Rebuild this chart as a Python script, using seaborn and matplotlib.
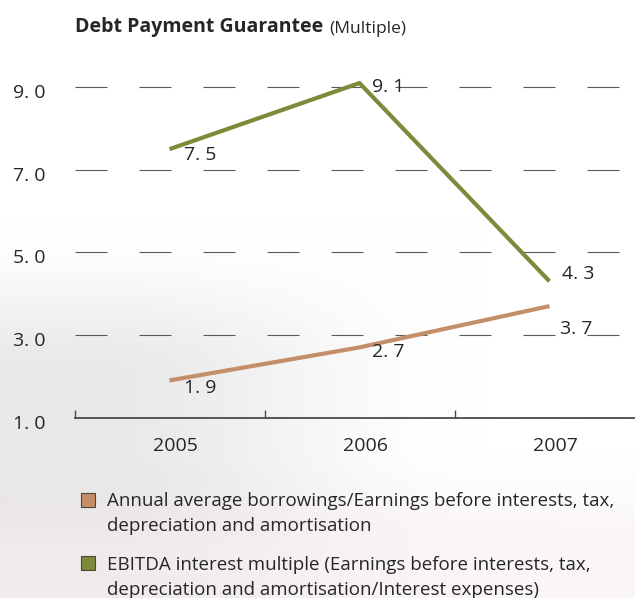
import numpy as np
import pandas as pd
import matplotlib
matplotlib.use("Agg")
import matplotlib.pyplot as plt
import matplotlib.transforms as mtransforms
from matplotlib.patches import Rectangle
import seaborn as sns

# ---- data -------------------------------------------------------------
years = ["2005", "2006", "2007"]
borrowings_ebitda = [1.9, 2.7, 3.7]
ebitda_interest = [7.5, 9.1, 4.3]
y_ticks = [1.0, 3.0, 5.0, 7.0, 9.0]
series_names = [
    "Annual average borrowings/Earnings before interests, tax,\ndepreciation and amortisation",
    "EBITDA interest multiple (Earnings before interests, tax,\ndepreciation and amortisation/Interest expenses)",
]
title_main = "Debt Payment Guarantee"
title_unit = "(Multiple)"

# ---- style ------------------------------------------------------------
sns.set_style("white")
plt.rcParams["font.family"] = ["Open Sans", "DejaVu Sans"]
plt.rcParams["lines.scale_dashes"] = False

TAN = "#c48f68"
GREEN = "#7b8b3a"
TEXT = "#262626"
AXIS = "#4a4a4a"

W, H, DPI = 635, 598, 100
fig = plt.figure(figsize=(W / DPI, H / DPI), dpi=DPI)

# soft backdrop: white at the top, pale grey haze on the left half,
# faint rose tint along the bottom
bg = fig.add_axes([0, 0, 1, 1], zorder=-10)
u = np.linspace(0, 1, 160)[None, :]
v = np.linspace(0, 1, 150)[:, None]
def smooth(t):
    t = np.clip(t, 0, 1)
    return t * t * (3 - 2 * t)
grey = (0.085 * smooth((v - 0.38) / 0.25) * (1 - 0.6 * smooth((v - 0.78) / 0.15))
        * smooth((0.75 - u) / 0.6))
rose = 0.045 * smooth((v - 0.76) / 0.14) * (1 - 0.3 * u)
rgb = np.dstack([1 - grey - rose * 0.5, 1 - grey - rose, 1 - grey - rose])
bg.imshow(np.clip(rgb, 0, 1), extent=[0, 1, 0, 1], aspect="auto", interpolation="bicubic")
bg.set_axis_off()

# ---- main axes --------------------------------------------------------
ax = fig.add_axes([74.5 / W, 1 - 417.6 / H, (W - 74.5) / W, 371.7 / H])
ax.patch.set_alpha(0)

pos = np.arange(len(years))
df = pd.DataFrame({
    "pos": np.concatenate([pos, pos]),
    "value": borrowings_ebitda + ebitda_interest,
    "series": [series_names[0]] * len(years) + [series_names[1]] * len(years),
})
sns.lineplot(data=df, x="pos", y="value", hue="series",
             palette=[TAN, GREEN], linewidth=3.0, legend=False, ax=ax,
             zorder=3)
for ln in ax.lines:
    ln.set_solid_capstyle("butt")
    ln.set_solid_joinstyle("miter")

ax.set_xlim(-0.5, 2.45)
ax.set_ylim(1.0, 10.0)

# dashed horizontal guides
ax.set_yticks(y_ticks)
ax.set_yticklabels([f"{t:.1f}".replace(".", ". ") for t in y_ticks],
                   fontsize=14, color=TEXT)
ax.yaxis.grid(True, color="#5a5a5a", linewidth=0.8,
              linestyle=(0, (23.04, 23.04)))
ax.tick_params(axis="y", length=0, pad=21)
for lab in ax.get_yticklabels():
    lab.set_transform(lab.get_transform() +
                      mtransforms.ScaledTranslation(0, -4 / DPI, fig.dpi_scale_trans))

ax.set_xticks(pos)
ax.set_xticklabels(years, fontsize=14, color=TEXT)
ax.set_xticks([-0.5, 0.5, 1.5], minor=True)
ax.tick_params(axis="x", which="major", length=0, pad=14)
ax.tick_params(axis="x", which="minor", bottom=True, direction="in", length=6,
               width=1.0, color=AXIS)
for lab in ax.get_xticklabels():
    lab.set_transform(lab.get_transform() +
                      mtransforms.ScaledTranslation(6 / DPI, 0, fig.dpi_scale_trans))

ax.set_xlabel("")
ax.set_ylabel("")
for side in ["left", "right", "top"]:
    ax.spines[side].set_visible(False)
ax.spines["bottom"].set_color(AXIS)
ax.spines["bottom"].set_linewidth(1.3)
ax.spines["bottom"].set_zorder(4)

# value labels next to each point
label_offsets = {
    0: [(15, -8), (12, -5), (11, -23)],
    1: [(14, -6), (12, -4), (13, 7)],
}
for s, vals in enumerate([borrowings_ebitda, ebitda_interest]):
    for i, val in enumerate(vals):
        ax.annotate(f"{val:.1f}".replace(".", ". "), xy=(pos[i], val),
                    xytext=label_offsets[s][i], textcoords="offset pixels",
                    ha="left", va="center", fontsize=14, color=TEXT,
                    zorder=5, annotation_clip=False)

# ---- title ------------------------------------------------------------
t1 = fig.text(75 / W, 1 - 32 / H, title_main, fontsize=14,
              fontweight="bold", color=TEXT, va="baseline", ha="left")
ax.annotate(title_unit, xy=(1, 0), xycoords=t1, xytext=(6, 0),
            textcoords="offset pixels", fontsize=12.5, color=TEXT,
            va="bottom", ha="left", annotation_clip=False)

# ---- legend -----------------------------------------------------------
legend_rows = [(493, [506, 531]), (556, [570, 595])]
for (sq_top, baselines), name, col in zip(legend_rows, series_names, [TAN, GREEN]):
    fig.patches.append(Rectangle((81 / W, 1 - (sq_top + 13.5) / H), 13.5 / W, 13.5 / H,
                                 transform=fig.transFigure, facecolor=col,
                                 edgecolor="#4d4540", linewidth=0.8))
    for line, bl in zip(name.split("\n"), baselines):
        fig.text(107 / W, 1 - bl / H, line, fontsize=13.5, color=TEXT,
                 va="baseline", ha="left")

fig.savefig("out.png", dpi=DPI)
